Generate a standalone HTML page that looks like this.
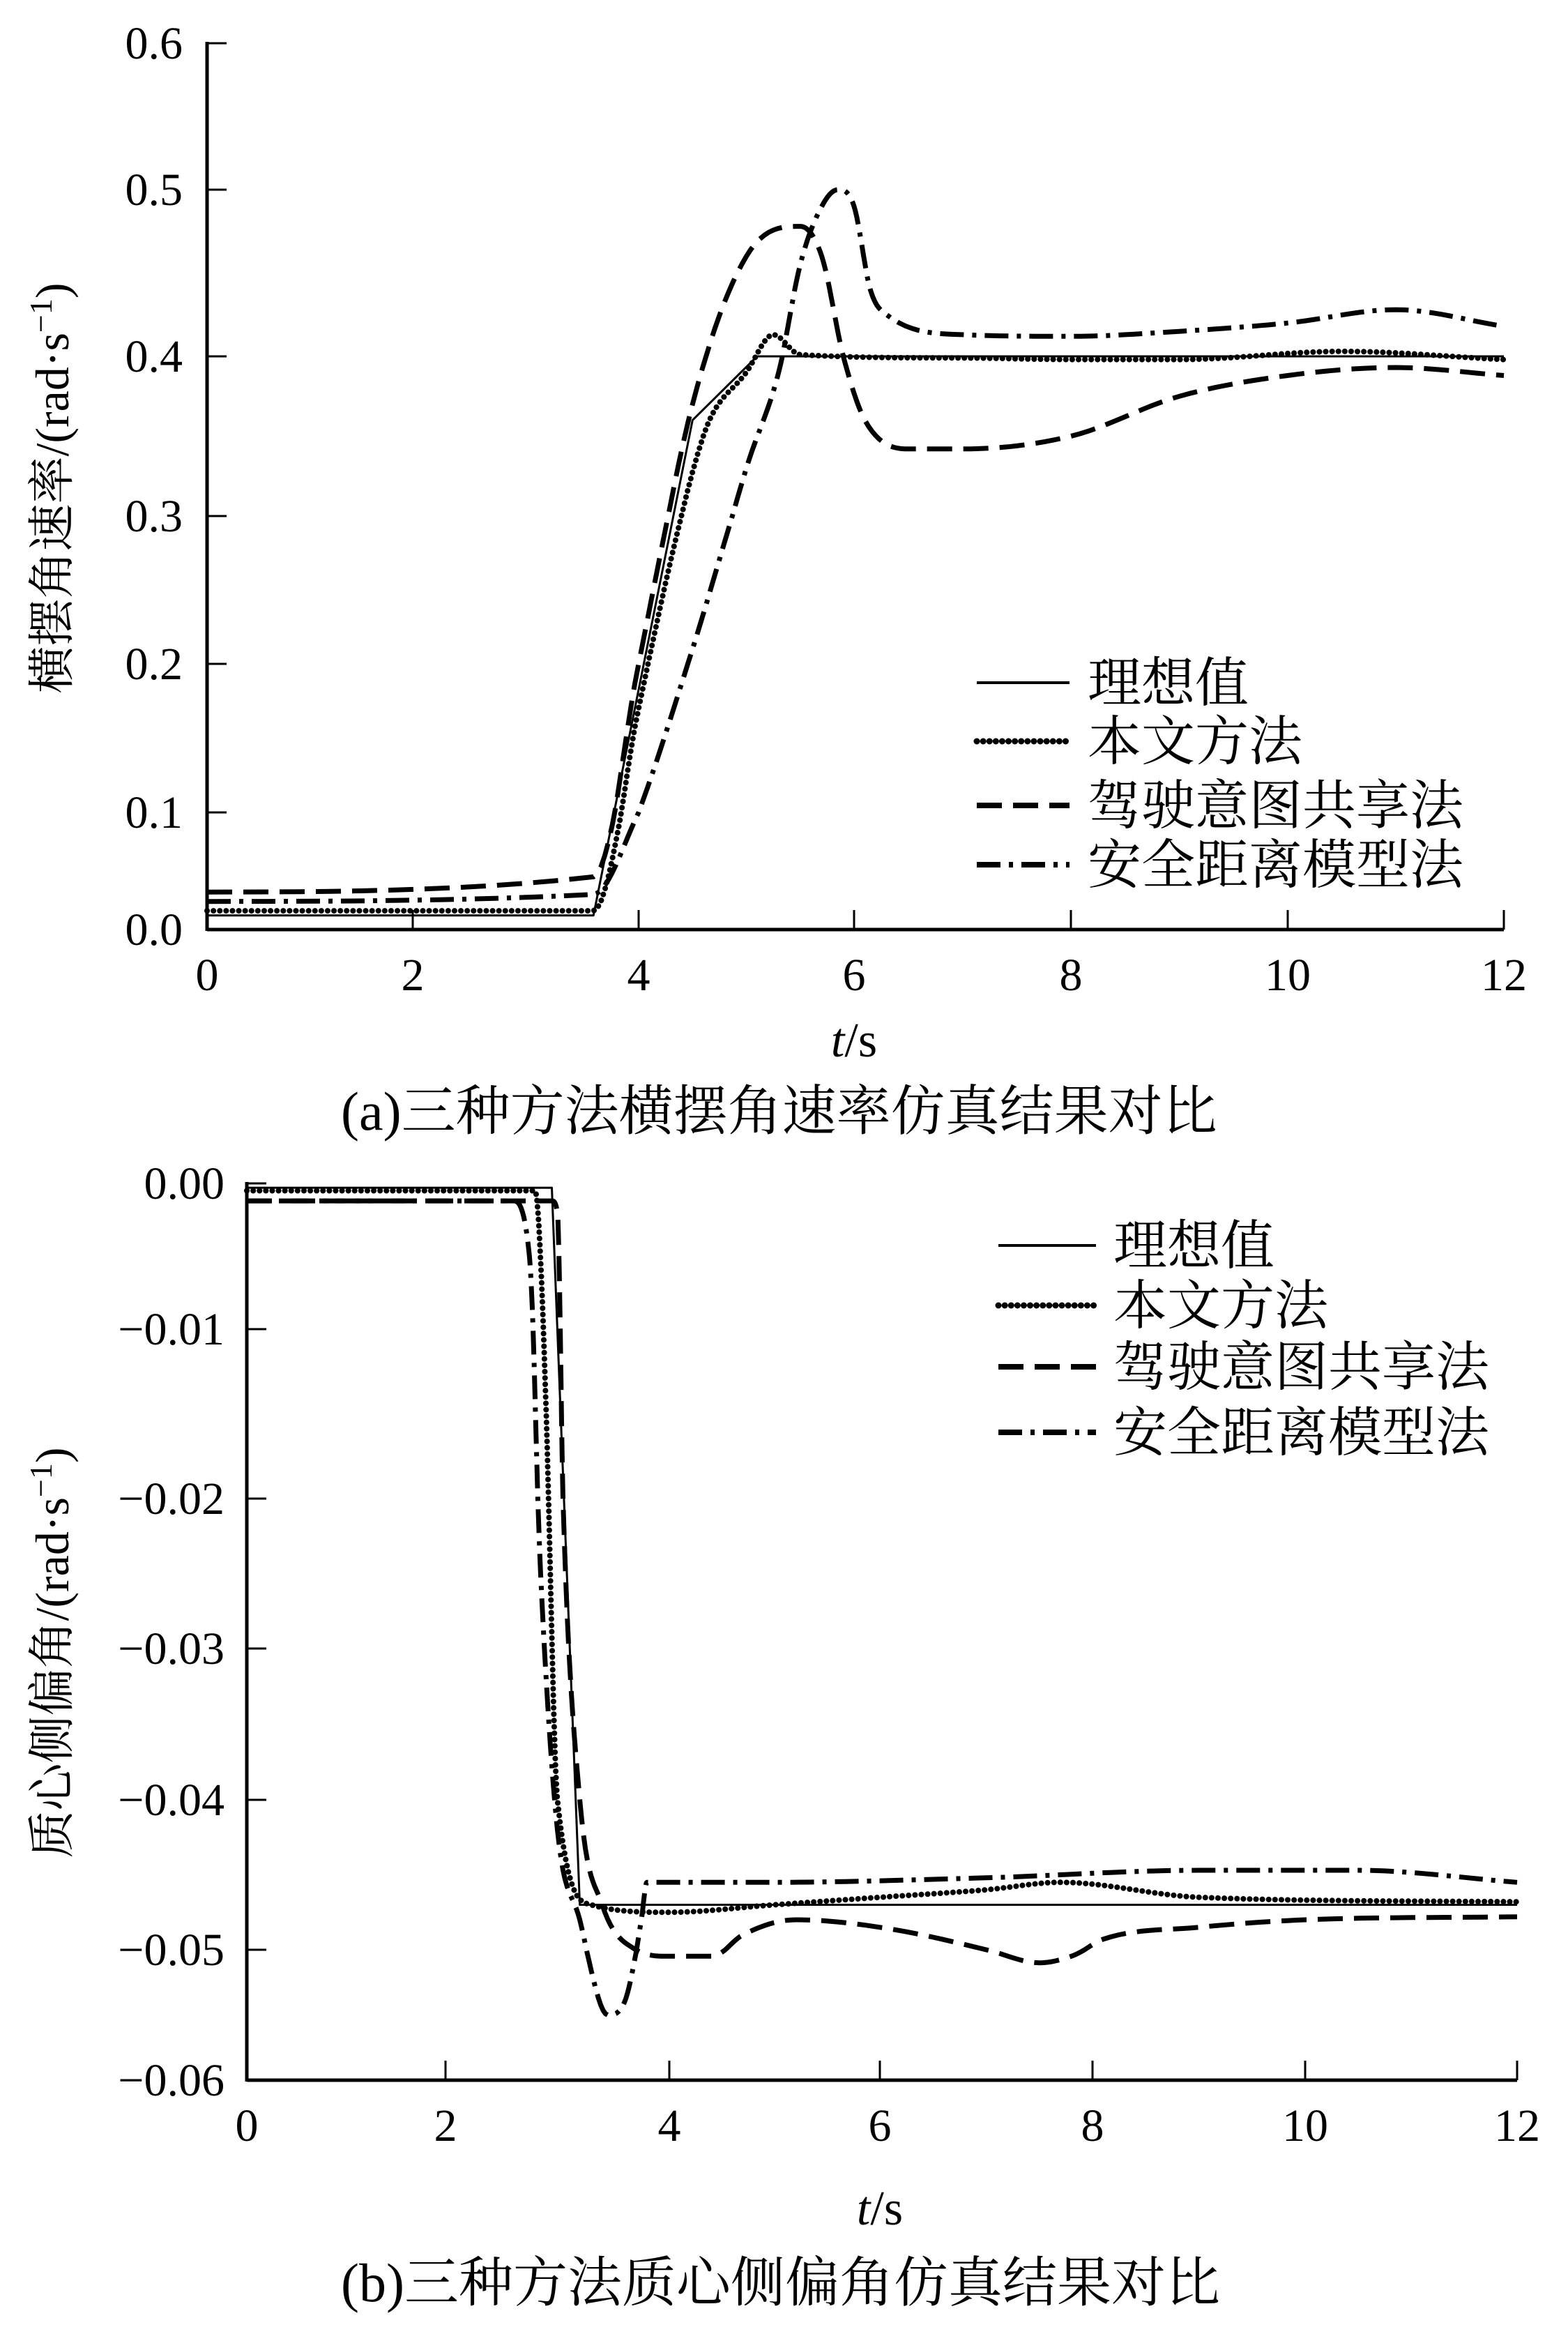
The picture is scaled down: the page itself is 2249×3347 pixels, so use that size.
<!DOCTYPE html>
<html><head><meta charset="utf-8">
<style>
html,body{margin:0;padding:0;background:#fff;}
svg{display:block;}
text{font-family:"Liberation Serif","Noto Serif CJK SC","Noto Sans CJK SC",serif;fill:#000;}
</style></head>
<body>
<svg id="fig" width="2249" height="3347" viewBox="0 0 2249 3347" xmlns="http://www.w3.org/2000/svg">
<g id="chartA"></g>
<g id="chartB"></g>
</svg>
<script>
// ---------- Chart A data (yaw rate) ----------
const xTickValsA = [0,2,4,6,8,10,12];
const yTickValsA = [0.0,0.1,0.2,0.3,0.4,0.5,0.6];
const yTickLabelsA = ["0.0","0.1","0.2","0.3","0.4","0.5","0.6"];
const idealA_t = [0,3.6,4.5,5.1,12];
const idealA_v = [0.012,0.012,0.36,0.40,0.40];
const oursA_t = [0,3.6,4.0,4.6,5.0,5.25,5.5,7,8,9,10.5,12];
const oursA_v = [0.016,0.016,0.17,0.35,0.39,0.413,0.401,0.399,0.398,0.398,0.403,0.398];
const intentA_t = [0,3.6,4.0,4.5,5.0,5.5,5.7,5.9,6.1,6.5,7.0,8.0,9.0,10,11,12];
const intentA_v = [0.032,0.045,0.2,0.37,0.46,0.478,0.46,0.40,0.36,0.342,0.342,0.35,0.375,0.388,0.393,0.388];
const safeA_t = [0,3.6,4.0,4.5,5.0,5.3,5.5,5.7,5.85,6.0,6.15,6.3,7,8,9,10,11,12];
const safeA_v = [0.024,0.03,0.1,0.21,0.33,0.39,0.455,0.49,0.5,0.49,0.44,0.425,0.413,0.412,0.415,0.42,0.428,0.418];

// ---------- Chart B data (sideslip) ----------
const xTickValsB = [0,2,4,6,8,10,12];
const yTickValsB = [0,-0.01,-0.02,-0.03,-0.04,-0.05,-0.06];
const yTickLabelsB = ["0.00","\u22120.01","\u22120.02","\u22120.03","\u22120.04","\u22120.05","\u22120.06"];
const idealB_t = [0,2.95,3.2,12];
const idealB_v = [-0.0003,-0.0003,-0.047,-0.047];
const oursB_t = [0,2.8,2.9,3.0,3.3,4,5,6,7,7.7,9,12];
const oursB_v = [-0.0005,-0.0005,-0.015,-0.04,-0.047,-0.0475,-0.047,-0.0465,-0.046,-0.0455,-0.0465,-0.0468];
const intentB_t = [0,2.95,3.0,3.05,3.2,3.4,3.7,4.0,4.4,4.7,5.2,6,7,7.5,7.8,8.1,9,10,12];
const intentB_v = [-0.0012,-0.0012,-0.002,-0.02,-0.04,-0.047,-0.05,-0.0505,-0.0505,-0.049,-0.048,-0.0485,-0.050,-0.051,-0.0505,-0.0493,-0.0485,-0.048,-0.0478];
const safeB_t = [0,2.6,2.75,2.85,3.0,3.2,3.45,3.6,3.75,3.8,5,7,9,10.5,12];
const safeB_v = [-0.0012,-0.0012,-0.005,-0.025,-0.042,-0.048,-0.055,-0.054,-0.048,-0.0455,-0.0455,-0.0452,-0.0447,-0.0447,-0.0455];

const NS="http://www.w3.org/2000/svg";
function mk(tag,attrs,parent){const e=document.createElementNS(NS,tag);for(const k in attrs)e.setAttribute(k,attrs[k]);parent.appendChild(e);return e;}
function interp(v,vals,px){
  let n=vals.length;
  let asc=vals[1]>vals[0];
  for(let i=0;i<n-1;i++){
    let a=vals[i],b=vals[i+1];
    let lo=Math.min(a,b),hi=Math.max(a,b);
    if(v>=lo&&v<=hi||(i===0&&(asc?v<a:v>a))||(i===n-2)){
      return px[i]+(v-a)/(b-a)*(px[i+1]-px[i]);
    }
  }
  return px[0];
}
// monotone cubic (Fritsch-Carlson) sampling in data space
function monotone(xs,ys,steps){
  const n=xs.length,d=[],m=new Array(n);
  for(let i=0;i<n-1;i++)d.push((ys[i+1]-ys[i])/(xs[i+1]-xs[i]));
  m[0]=d[0];m[n-1]=d[n-2];
  for(let i=1;i<n-1;i++){m[i]=(d[i-1]*d[i]<=0)?0:(d[i-1]+d[i])/2;}
  for(let i=0;i<n-1;i++){
    if(d[i]===0){m[i]=0;m[i+1]=0;continue;}
    const a=m[i]/d[i],b=m[i+1]/d[i],s=a*a+b*b;
    if(s>9){const t=3/Math.sqrt(s);m[i]=t*a*d[i];m[i+1]=t*b*d[i];}
  }
  const out=[];
  for(let i=0;i<n-1;i++){
    const h=xs[i+1]-xs[i];
    for(let k=0;k<steps;k++){
      const t=k/steps,t2=t*t,t3=t2*t;
      const y=(2*t3-3*t2+1)*ys[i]+(t3-2*t2+t)*h*m[i]+(-2*t3+3*t2)*ys[i+1]+(t3-t2)*h*m[i+1];
      out.push([xs[i]+t*h,y]);
    }
  }
  out.push([xs[n-1],ys[n-1]]);
  return out;
}
const styles={
  ideal:{w:3,dash:null,cap:"butt",smooth:false},
  ours:{w:8,dash:"0.1 9",cap:"round",smooth:true},
  intent:{w:7,dash:"36 16",cap:"butt",smooth:true},
  safe:{w:7,dash:"34 12 6 12",cap:"butt",smooth:true}
};

function drawChart(g,cfg){
  const X=v=>interp(v,cfg.xTicks,cfg.xPx), Y=v=>interp(v,cfg.yTicks,cfg.yPx);
  const x0=cfg.xPx[0], x1=cfg.xPx[cfg.xPx.length-1];
  const yBot=cfg.axisY;
  let ax=mk('line',{x1:x0,y1:yBot,x2:x1,y2:yBot,stroke:'#000','stroke-width':5},g);
  
  
  let ay=mk('line',{x1:x0,y1:yBot+2,x2:x0,y2:cfg.axisTop,stroke:'#000','stroke-width':5},g);
  
  
  cfg.xTicks.forEach((v,i)=>{
    const px=X(v);
    if(i>0){let t=mk('line',{x1:px,y1:yBot,x2:px,y2:yBot-28,stroke:'#000','stroke-width':3},g);
      
      }
    let l=mk('text',{x:px,y:cfg.xLabelY,'font-size':66,'text-anchor':'middle'},g);
    l.textContent=String(v);
    
    
  });
  cfg.yTicks.forEach((v,i)=>{
    const py=Y(v);
    if(py!==yBot){let t=mk('line',{x1:x0,y1:py,x2:x0+28,y2:py,stroke:'#000','stroke-width':3},g);
      
      }
    let l=mk('text',{x:cfg.yLabelX,y:py+22,'font-size':66,'text-anchor':'end'},g);
    l.textContent=cfg.yLabels[i];
    
    
  });
  cfg.series.forEach(s=>{
    const st=styles[s.kind];
    const pts=st.smooth?monotone(s.t,s.v,12):s.t.map((t,i)=>[t,s.v[i]]);
    const d=pts.map((p,i)=>(i?'L':'M')+X(p[0]).toFixed(1)+' '+Y(p[1]).toFixed(1)).join(' ');
    const p=mk('path',{d:d,fill:'none',stroke:'#000','stroke-width':st.w,'stroke-linecap':st.cap,'stroke-linejoin':'round'},g);
    if(st.dash)p.setAttribute('stroke-dasharray',st.dash);
    
    
  });
  cfg.legend.forEach((lg,i)=>{
    const st=styles[lg.kind];
    const ly=cfg.legY[i];
    const ln=mk('line',{x1:cfg.legX0,y1:ly,x2:cfg.legX1,y2:ly,stroke:'#000','stroke-width':st.w+1,'stroke-linecap':st.cap},g);
    if(st.dash)ln.setAttribute('stroke-dasharray',st.dash);
    
    
    const tx=mk('text',{x:cfg.legTX,y:ly+27,'font-size':77},g);
    tx.textContent=lg.label;
    
    
  });
  const xt=mk('text',{x:X(6),y:cfg.xTitleY,'font-size':70,'text-anchor':'middle'},g);
  xt.innerHTML='<tspan font-style="italic">t</tspan>/s';
  
  
  const yt=mk('text',{x:0,y:0,'font-size':68,'text-anchor':'middle',transform:`translate(${cfg.yTitleX},${cfg.yTitleY}) rotate(-90)`},g);
  yt.innerHTML=cfg.yTitle+'/(rad·s<tspan dy="-24" font-size="46">−1</tspan><tspan dy="24">)</tspan>';
  
  
  const cap=mk('text',{x:cfg.capX,y:cfg.capY,'font-size':78},g);
  cap.textContent=cfg.caption;
  
  
}
const legendLabels=[{kind:'ideal',label:'理想值'},{kind:'ours',label:'本文方法'},{kind:'intent',label:'驾驶意图共享法'},{kind:'safe',label:'安全距离模型法'}];
drawChart(document.getElementById('chartA'),{
  xTicks:xTickValsA,xPx:[297,592,916,1225,1536,1847,2157],
  yTicks:yTickValsA,yPx:[1333,1165,952,740,511,272,62],yLabels:yTickLabelsA,
  axisY:1333,axisTop:60,xLabelY:1420,yLabelX:262,xTitleY:1515,
  yTitle:'横摆角速率',yTitleX:98,yTitleY:700,
  caption:'(a)三种方法横摆角速率仿真结果对比',capX:489,capY:1620,
  legX0:1401,legX1:1534,legTX:1560,legY:[979,1063,1155,1240],legend:legendLabels,
  series:[{kind:'ideal',t:idealA_t,v:idealA_v},{kind:'ours',t:oursA_t,v:oursA_v},{kind:'intent',t:intentA_t,v:intentA_v},{kind:'safe',t:safeA_t,v:safeA_v}]
});
drawChart(document.getElementById('chartB'),{
  xTicks:xTickValsB,xPx:[354,639,960,1262,1567,1872,2176],
  yTicks:yTickValsB,yPx:[1697,1906,2149,2364,2581,2796,2983],yLabels:yTickLabelsB,
  axisY:2983,axisTop:1695,xLabelY:3070,yLabelX:322,xTitleY:3190,
  yTitle:'质心侧偏角',yTitleX:98,yTitleY:2370,
  caption:'(b)三种方法质心侧偏角仿真结果对比',capX:489,capY:3300,
  legX0:1432,legX1:1572,legTX:1597,legY:[1786,1872,1960,2054],legend:legendLabels,
  series:[{kind:'ideal',t:idealB_t,v:idealB_v},{kind:'ours',t:oursB_t,v:oursB_v},{kind:'intent',t:intentB_t,v:intentB_v},{kind:'safe',t:safeB_t,v:safeB_v}]
});
</script>
</body></html>
